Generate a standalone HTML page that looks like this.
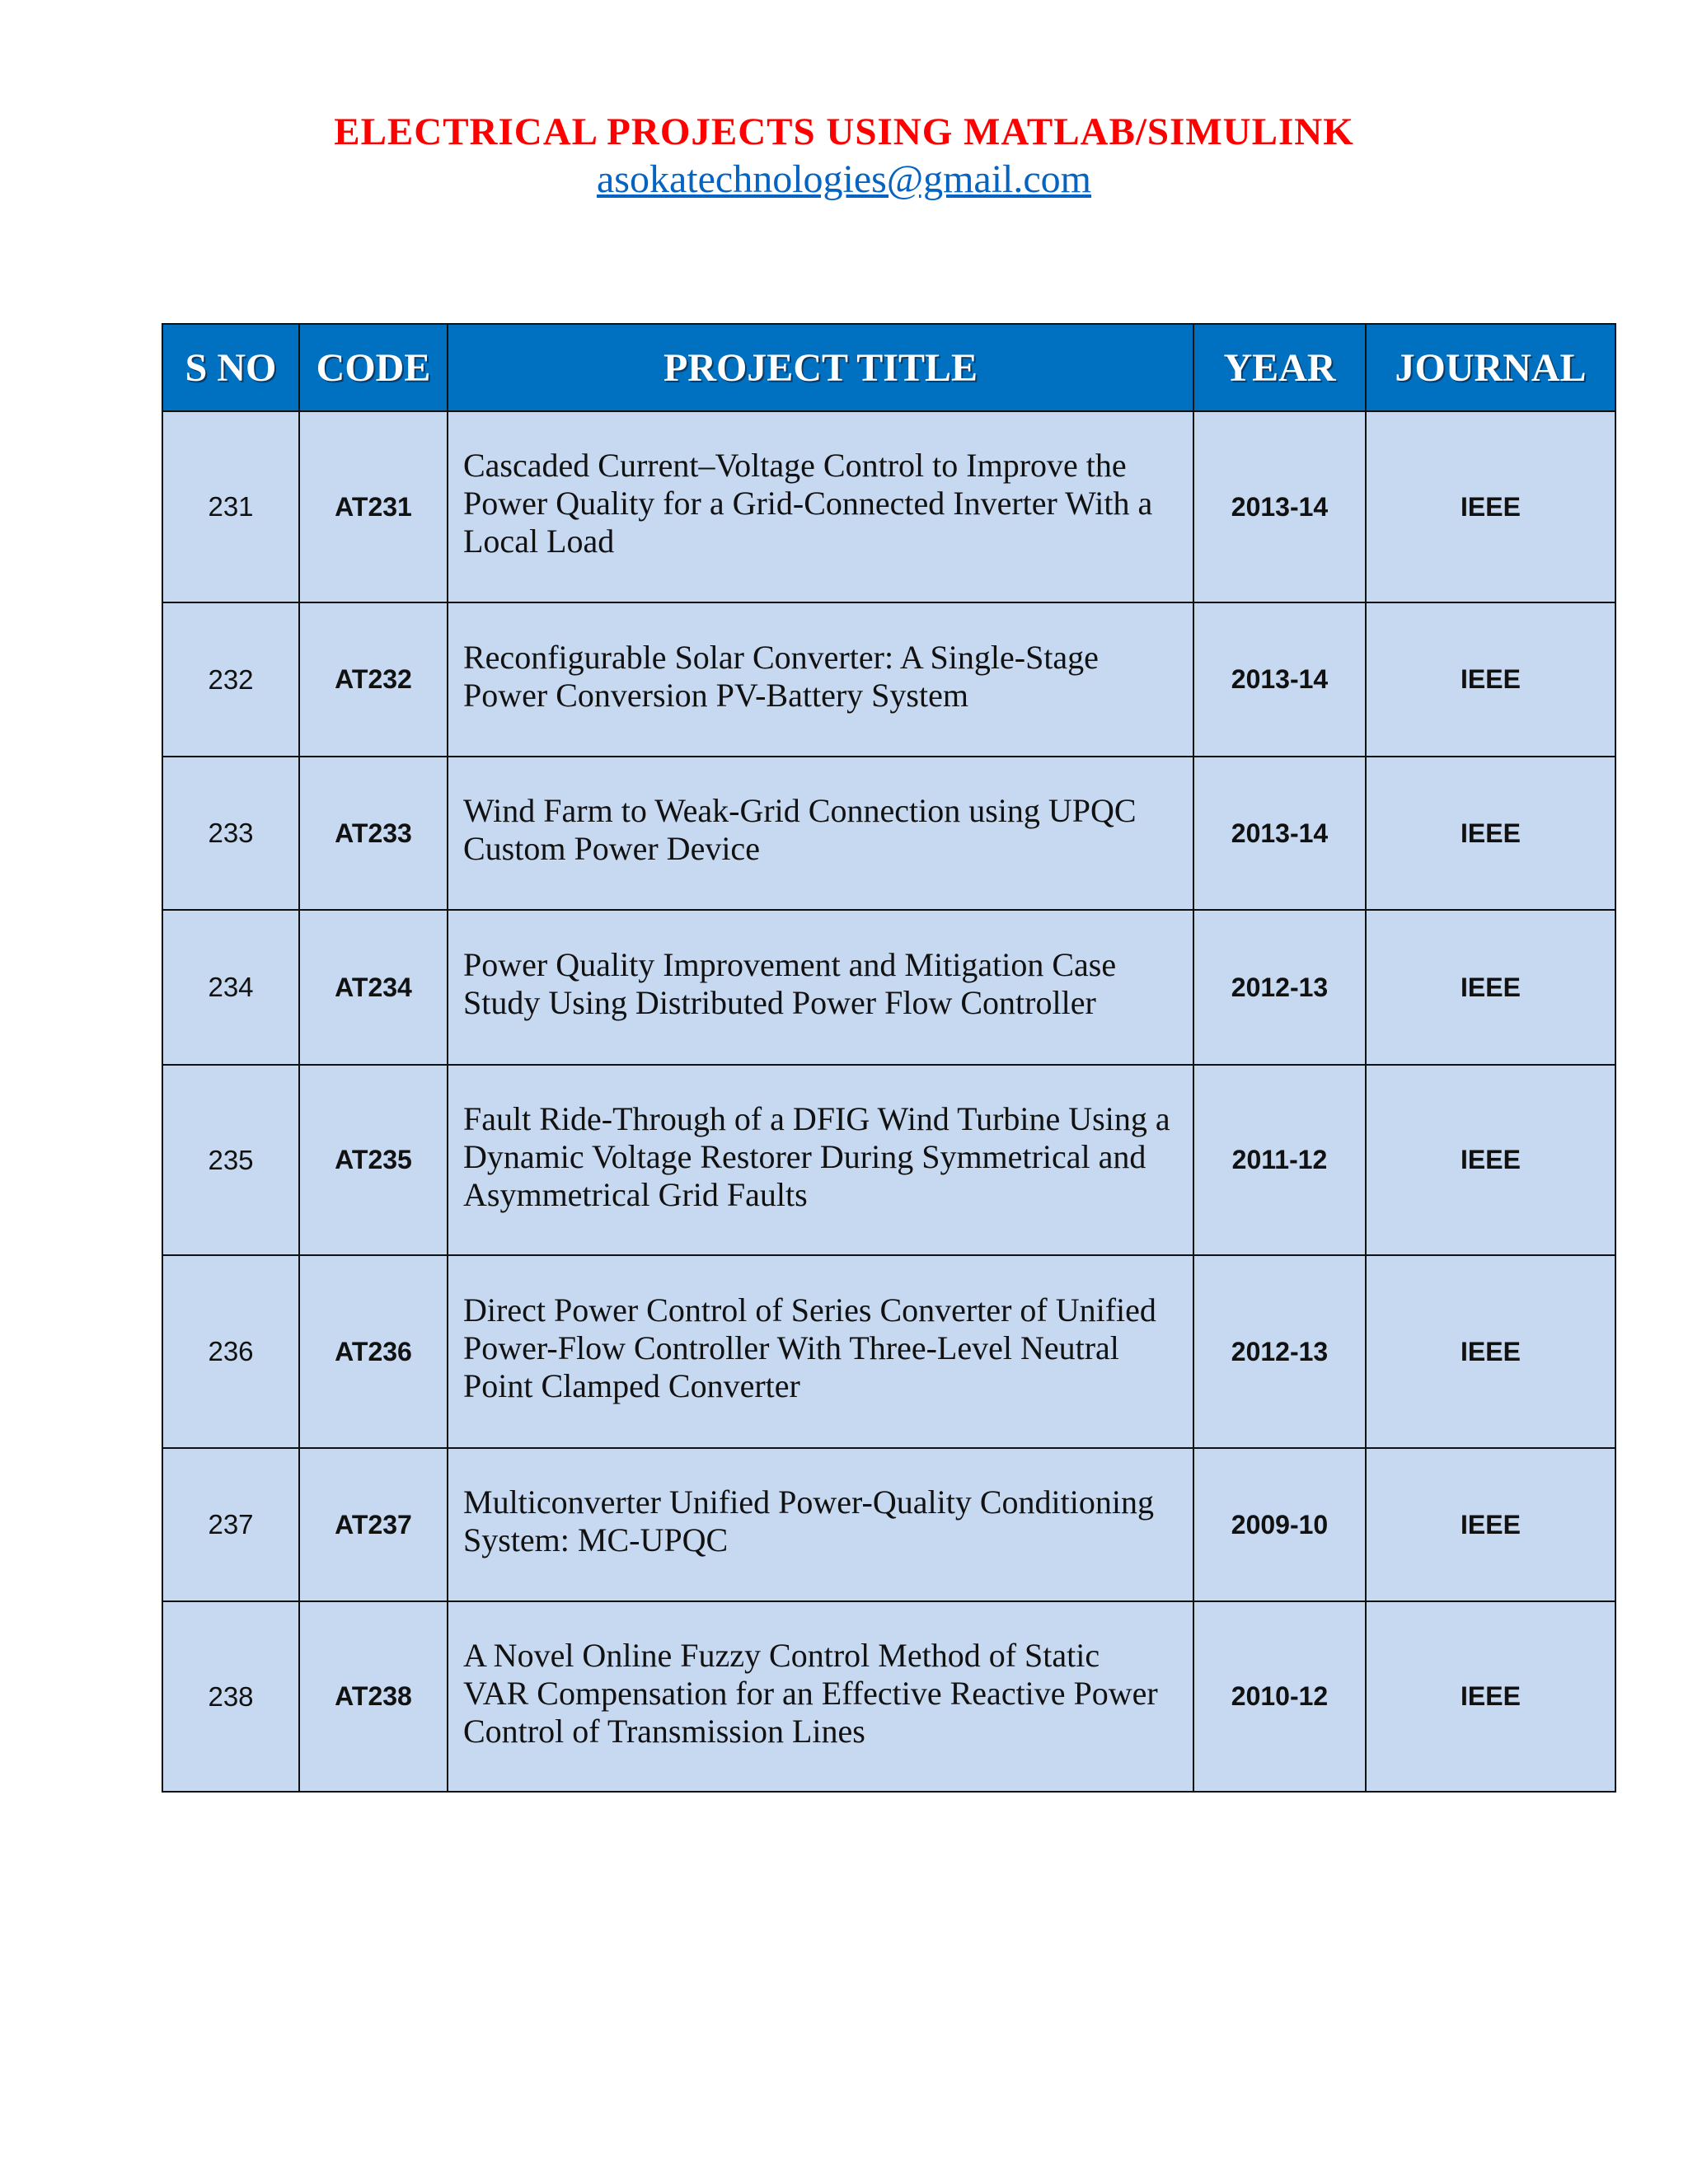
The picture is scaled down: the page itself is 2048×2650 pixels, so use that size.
<!DOCTYPE html>
<html><head><meta charset="utf-8"><style>
html,body{margin:0;padding:0;background:#fff;}
body{width:2048px;height:2650px;position:relative;overflow:hidden;}
.title{position:absolute;left:0;width:2048px;top:130px;text-align:center;font-family:"Liberation Serif",serif;font-weight:bold;font-size:47px;color:#ff0000;letter-spacing:1px;line-height:60px;}
.email{position:absolute;left:0;width:2048px;top:190px;text-align:center;font-family:"Liberation Serif",serif;font-size:48px;color:#0563c1;text-decoration:underline;line-height:56px;}
table{position:absolute;left:196px;top:392px;border-collapse:collapse;table-layout:fixed;}
td,th{border:2px solid #111;padding:0;}
th{background:#0070c0;color:#fff;font-family:"Liberation Serif",serif;font-weight:bold;font-size:48px;height:104px;text-shadow:2px 2px 0 #0a3a66;}
td{background:#c6d9f0;font-family:"Liberation Sans",sans-serif;font-size:33px;text-align:center;color:#111;}
td.b{font-weight:bold;font-size:32px;}
td.t{text-align:left;font-family:"Liberation Serif",serif;font-size:40px;line-height:46px;padding-left:18px;padding-bottom:8px;}
</style></head><body>
<div class="title">ELECTRICAL PROJECTS USING MATLAB/SIMULINK</div>
<div class="email">asokatechnologies@gmail.com</div>
<table>
<colgroup><col style="width:166px"><col style="width:180px"><col style="width:905px"><col style="width:209px"><col style="width:303px"></colgroup>
<tr>
<th>S NO</th><th>CODE</th><th>PROJECT TITLE</th><th>YEAR</th><th>JOURNAL</th></tr>
<tr style="height:232px"><td>231</td><td class="b">AT231</td><td class="t">Cascaded Current–Voltage Control to Improve the<br>Power Quality for a Grid-Connected Inverter With a<br>Local Load</td><td class="b">2013-14</td><td class="b">IEEE</td></tr>
<tr style="height:187px"><td>232</td><td class="b">AT232</td><td class="t">Reconfigurable Solar Converter: A Single-Stage<br>Power Conversion PV-Battery System</td><td class="b">2013-14</td><td class="b">IEEE</td></tr>
<tr style="height:186px"><td>233</td><td class="b">AT233</td><td class="t">Wind Farm to Weak-Grid Connection using UPQC<br>Custom Power Device</td><td class="b">2013-14</td><td class="b">IEEE</td></tr>
<tr style="height:188px"><td>234</td><td class="b">AT234</td><td class="t">Power Quality Improvement and Mitigation Case<br>Study Using Distributed Power Flow Controller</td><td class="b">2012-13</td><td class="b">IEEE</td></tr>
<tr style="height:231px"><td>235</td><td class="b">AT235</td><td class="t">Fault Ride-Through of a DFIG Wind Turbine Using a<br>Dynamic Voltage Restorer During Symmetrical and<br>Asymmetrical Grid Faults</td><td class="b">2011-12</td><td class="b">IEEE</td></tr>
<tr style="height:234px"><td>236</td><td class="b">AT236</td><td class="t">Direct Power Control of Series Converter of Unified<br>Power-Flow Controller With Three-Level Neutral<br>Point Clamped Converter</td><td class="b">2012-13</td><td class="b">IEEE</td></tr>
<tr style="height:186px"><td>237</td><td class="b">AT237</td><td class="t">Multiconverter Unified Power-Quality Conditioning<br>System: MC-UPQC</td><td class="b">2009-10</td><td class="b">IEEE</td></tr>
<tr style="height:231px"><td>238</td><td class="b">AT238</td><td class="t">A Novel Online Fuzzy Control Method of Static<br>VAR Compensation for an Effective Reactive Power<br>Control of Transmission Lines</td><td class="b">2010-12</td><td class="b">IEEE</td></tr>
</table>
</body></html>
